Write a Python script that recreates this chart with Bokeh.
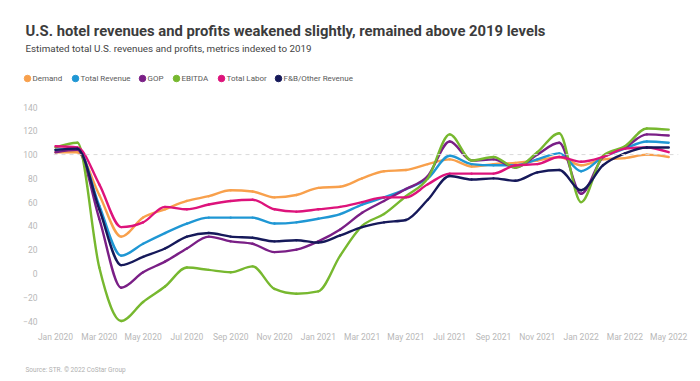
from bokeh.plotting import figure
from bokeh.layouts import column
from bokeh.models import Label, Span, FixedTicker, Range1d
from bokeh.embed import file_html
from bokeh.resources import INLINE

months = ["Jan 2020", "Feb 2020", "Mar 2020", "Apr 2020", "May 2020", "Jun 2020",
          "Jul 2020", "Aug 2020", "Sep 2020", "Oct 2020", "Nov 2020", "Dec 2020",
          "Jan 2021", "Feb 2021", "Mar 2021", "Apr 2021", "May 2021", "Jun 2021",
          "Jul 2021", "Aug 2021", "Sep 2021", "Oct 2021", "Nov 2021", "Dec 2021",
          "Jan 2022", "Feb 2022", "Mar 2022", "Apr 2022", "May 2022"]

demand = [102, 102, 66, 31, 47, 54, 61, 65, 70, 69, 64, 66, 72, 73, 80, 86, 87, 92, 96,
          90, 92, 93, 95, 98, 91, 96, 97, 100, 98]
total_revenue = [104, 105, 57, 15, 25, 34, 42, 47, 47, 47, 42, 43, 46, 50, 58, 64, 71, 80, 99,
                 92, 91, 91, 96, 101, 86, 98, 105, 111, 110]
gop = [102, 104, 46, -12, 1, 10, 21, 31, 27, 25, 18, 20, 27, 37, 51, 61, 71, 82, 111,
       95, 96, 89, 100, 110, 67, 98, 106, 117, 116]
ebitda = [106, 110, 5, -40, -24, -11, 5, 3, 1, 6, -13, -17, -15, 15, 40, 50, 65, 80, 117,
          95, 98, 89, 102, 118, 60, 99, 107, 122, 121]
total_labor = [107, 106, 75, 39, 43, 56, 54, 58, 61, 62, 54, 52, 54, 56, 60, 64, 64, 75, 84,
               84, 84, 91, 92, 98, 94, 98, 105, 106, 102]
fb_other = [104, 105, 54, 7, 14, 21, 31, 34, 31, 30, 27, 28, 26, 32, 39, 43, 45, 62, 82,
            79, 80, 78, 85, 87, 70, 91, 101, 106, 106]

series_names = ["Demand", "Total Revenue", "GOP", "EBITDA", "Total Labor", "F&B/Other Revenue"]
series_values = [demand, total_revenue, gop, ebitda, total_labor, fb_other]
series_colors = ["#f8a04c", "#1f97d4", "#7a1f86", "#77b82f", "#dd137b", "#16195a"]

y_ticks = [-40, -20, 0, 20, 40, 60, 80, 100, 120, 140]
x_tick_idx = list(range(0, len(months), 2))

FONT = "Roboto"
W = 700
HEAD_H, MAIN_H, FOOT_H = 100, 250, 31


def no_align(fig):
    if "frame_align" in fig.properties():
        fig.frame_align = False


# ---------------- header: title, subtitle, legend ----------------
head = figure(width=W, height=HEAD_H, output_backend="svg", toolbar_location=None,
              x_range=Range1d(0, W), y_range=Range1d(0, HEAD_H),
              x_axis_type=None, y_axis_type=None, min_border=0,
              min_border_left=0, min_border_right=0, min_border_top=0, min_border_bottom=0)
head.outline_line_color = None
no_align(head)
head.add_layout(Label(x=25, y=HEAD_H - 30,
                      text="U.S. hotel revenues and profits weakened slightly, remained above 2019 levels",
                      text_font=FONT, text_font_style="bold", text_font_size="14.8px",
                      text_color="#3c3c3c", text_baseline="alphabetic"))
head.add_layout(Label(x=25, y=HEAD_H - 47.5,
                      text="Estimated total U.S. revenues and profits, metrics indexed to 2019",
                      text_font=FONT, text_font_size="9.8px",
                      text_color="#444444", text_baseline="alphabetic"))

legend_dot_px = [27, 75, 142, 176, 221, 278]
legend_y = HEAD_H - 78
head.scatter(x=legend_dot_px, y=[legend_y] * len(legend_dot_px), marker="circle",
             size=6.5, fill_color=series_colors, line_color=series_colors)
for name, px in zip(series_names, legend_dot_px):
    head.add_layout(Label(x=px + 5, y=legend_y, text=name, text_font=FONT,
                          text_font_size="8px", text_color="#5a5a5a",
                          text_baseline="middle"))

# ---------------- main chart ----------------
p = figure(width=W, height=MAIN_H, output_backend="svg", toolbar_location=None,
           x_range=Range1d(-0.091, 28.447), y_range=Range1d(-44.6, 145.5),
           min_border_left=53, min_border_right=22, min_border_top=0,
           min_border_bottom=24)
p.outline_line_color = None
p.xgrid.grid_line_color = None
p.ygrid.grid_line_color = None

for ax in (p.xaxis[0], p.yaxis[0]):
    ax.axis_line_color = None
    ax.major_tick_line_color = None
    ax.minor_tick_line_color = None
    ax.major_tick_out = 0
    ax.major_tick_in = 0
    ax.major_label_text_color = "#b8b8b8"
    ax.major_label_text_font = FONT
    ax.major_label_text_font_size = "8.5px"

p.xaxis.ticker = FixedTicker(ticks=x_tick_idx)
p.xaxis.major_label_overrides = {i: months[i] for i in x_tick_idx}
p.xaxis.major_label_standoff = 5
p.yaxis.ticker = FixedTicker(ticks=y_ticks)
p.yaxis.major_label_standoff = 16

p.add_layout(Span(location=100, dimension="width", line_color="#d9d9d9",
                  line_dash="4 4", line_width=1))


def monotone_segments(xs, ys):
    """Monotone cubic (d3 curveMonotoneX) as bezier segments."""
    n = len(xs)
    h = [xs[i + 1] - xs[i] for i in range(n - 1)]
    s = [(ys[i + 1] - ys[i]) / h[i] for i in range(n - 1)]

    def sign(v):
        return (v > 0) - (v < 0)

    t = [0.0] * n
    for i in range(1, n - 1):
        h0, h1, s0, s1 = h[i - 1], h[i], s[i - 1], s[i]
        pp = (s0 * h1 + s1 * h0) / (h0 + h1)
        t[i] = (sign(s0) + sign(s1)) * min(abs(s0), abs(s1), 0.5 * abs(pp))
    t[0] = (3 * s[0] - t[1]) / 2
    t[-1] = (3 * s[-1] - t[-2]) / 2
    seg = dict(x0=[], y0=[], x1=[], y1=[], cx0=[], cy0=[], cx1=[], cy1=[])
    for i in range(n - 1):
        dx = h[i] / 3.0
        seg["x0"].append(xs[i]); seg["y0"].append(ys[i])
        seg["x1"].append(xs[i + 1]); seg["y1"].append(ys[i + 1])
        seg["cx0"].append(xs[i] + dx); seg["cy0"].append(ys[i] + dx * t[i])
        seg["cx1"].append(xs[i + 1] - dx); seg["cy1"].append(ys[i + 1] - dx * t[i + 1])
    return seg


xs = list(range(len(months)))
for vals, col in zip(series_values, series_colors):
    seg = monotone_segments(xs, vals)
    p.bezier(source=seg, x0="x0", y0="y0", x1="x1", y1="y1", cx0="cx0", cy0="cy0",
             cx1="cx1", cy1="cy1", line_color=col, line_width=2.4, line_cap="round")

# ---------------- footer ----------------
foot = figure(width=W, height=FOOT_H, output_backend="svg", toolbar_location=None,
              x_range=Range1d(0, W), y_range=Range1d(0, FOOT_H),
              x_axis_type=None, y_axis_type=None, min_border=0,
              min_border_left=0, min_border_right=0, min_border_top=0, min_border_bottom=0)
foot.outline_line_color = None
no_align(foot)
foot.add_layout(Label(x=25, y=FOOT_H - 19, text="Source: STR. \u00a9 2022 CoStar Group",
                      text_font=FONT, text_font_size="6.5px",
                      text_color="#b0b0b0", text_baseline="alphabetic"))

layout = column(head, p, foot, spacing=0)
open("out.html", "w").write(file_html(layout, INLINE))
